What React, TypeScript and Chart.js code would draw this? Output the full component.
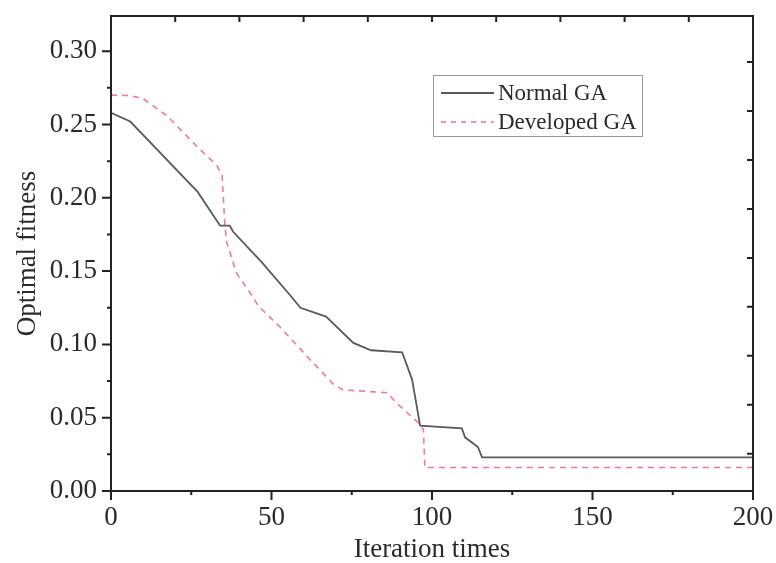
import React, { useEffect, useRef } from "react";
import { Chart, registerables } from "chart.js";

Chart.register(...registerables);

const seriesNames = ["Normal GA", "Developed GA"];

const normalIter = [0, 6, 27, 34, 37, 38, 44, 47, 56, 59, 67, 75.5, 81, 90.7, 93.8, 96.3, 109.3, 110.3, 114.3, 115.6, 200];
const normalFit = [0.258, 0.252, 0.204, 0.181, 0.181, 0.177, 0.163, 0.156, 0.133, 0.125, 0.119, 0.101, 0.096, 0.0946, 0.076, 0.0445, 0.0427, 0.0366, 0.030, 0.0229, 0.0229];

const developedIter = [0, 6, 10, 17.4, 26.8, 33, 34.6, 35.5, 36, 39, 44, 46, 52.6, 61, 69.3, 72.3, 86, 89, 96.3, 97.3, 97.8, 200];
const developedFit = [0.27, 0.2697, 0.2676, 0.256, 0.235, 0.222, 0.215, 0.181, 0.17, 0.149, 0.133, 0.126, 0.112, 0.092, 0.0728, 0.069, 0.067, 0.06, 0.0454, 0.042, 0.016, 0.016];

const xTickValues = [0, 50, 100, 150, 200];
const yTickValues = [0, 0.05, 0.1, 0.15, 0.2, 0.25, 0.3];

const FONT = "'Liberation Serif', 'Times New Roman', serif";
const AXIS_COLOR = "#222";
const TEXT_COLOR = "#2b2b2b";
const NORMAL_COLOR = "#5a5a5a";
const DEV_COLOR = "#f27a93";

const framePlugin = {
  id: "frameTicks",
  afterDatasetsDraw(chart: any) {
    const ctx = chart.ctx;
    const { left, right, top, bottom } = chart.chartArea;
    const xs = chart.scales.x;
    const ys = chart.scales.y;
    ctx.save();
    ctx.strokeStyle = AXIS_COLOR;
    ctx.lineWidth = 2;
    ctx.strokeRect(left, top, right - left, bottom - top);
    ctx.beginPath();
    for (let v = 0; v <= 200; v += 25) {
      const px = xs.getPixelForValue(v);
      const len = v % 50 === 0 ? 9 : 4;
      ctx.moveTo(px, bottom);
      ctx.lineTo(px, bottom + len);
    }
    for (let v = 20; v < 200; v += 20) {
      const px = xs.getPixelForValue(v);
      ctx.moveTo(px, top);
      ctx.lineTo(px, top + 6);
    }
    for (let i = 0; i <= 12; i++) {
      const v = i * 0.025;
      const py = ys.getPixelForValue(v);
      const len = i % 2 === 0 ? 9 : 4;
      ctx.moveTo(left, py);
      ctx.lineTo(left - len, py);
    }
    for (let i = 0; i <= 9; i++) {
      const v = 0.0254 + i * 0.0334;
      if (v > 0.32) break;
      const py = ys.getPixelForValue(v);
      ctx.moveTo(right, py);
      ctx.lineTo(right - 6, py);
    }
    ctx.stroke();

    const bx = 433, by = 75, bw = 209, bh = 61;
    ctx.lineWidth = 1;
    ctx.strokeStyle = "#9a9a9a";
    ctx.strokeRect(bx + 0.5, by + 0.5, bw, bh);
    ctx.font = `23px ${FONT}`;
    ctx.textBaseline = "middle";
    ctx.fillStyle = TEXT_COLOR;
    const rows = [
      { y: 93, color: NORMAL_COLOR, dash: [] as number[], width: 1.8 },
      { y: 122, color: DEV_COLOR, dash: [5, 5], width: 1.6 },
    ];
    rows.forEach((r, i) => {
      ctx.save();
      ctx.strokeStyle = r.color;
      ctx.lineWidth = r.width;
      ctx.setLineDash(r.dash);
      ctx.beginPath();
      ctx.moveTo(441, r.y);
      ctx.lineTo(494, r.y);
      ctx.stroke();
      ctx.restore();
      ctx.fillText(seriesNames[i], 498, r.y + 1);
    });
    ctx.restore();
  },
};

export default function App() {
  const ref = useRef<HTMLCanvasElement | null>(null);
  useEffect(() => {
    document.body.style.margin = "0";
    const canvas = ref.current!;
    const chart = new Chart(canvas, {
      type: "line",
      data: {
        datasets: [
          {
            label: seriesNames[0],
            data: normalIter.map((x, i) => ({ x, y: normalFit[i] })),
            borderColor: NORMAL_COLOR,
            borderWidth: 1.8,
            pointRadius: 0,
            tension: 0,
            fill: false,
          },
          {
            label: seriesNames[1],
            data: developedIter.map((x, i) => ({ x, y: developedFit[i] })),
            borderColor: DEV_COLOR,
            borderWidth: 1.6,
            borderDash: [6, 5],
            pointRadius: 0,
            tension: 0,
            fill: false,
          },
        ],
      },
      options: {
        animation: false,
        responsive: false,
        devicePixelRatio: 1,
        layout: { padding: { left: 0, right: 23, top: 16, bottom: 0 } },
        plugins: { legend: { display: false }, tooltip: { enabled: false } },
        scales: {
          x: {
            type: "linear",
            min: 0,
            max: 200,
            afterFit: (s: any) => {
              s.height = 72;
              s.paddingLeft = 0;
              s.paddingRight = 0;
            },
            afterBuildTicks: (s: any) => { s.ticks = xTickValues.map((v) => ({ value: v })); },
            grid: { display: false, drawTicks: false },
            border: { display: false },
            ticks: {
              padding: 11,
              color: TEXT_COLOR,
              font: { family: FONT, size: 27 },
              callback: (v: any) => String(v),
              maxRotation: 0,
            },
            title: {
              display: true,
              text: "Iteration times",
              color: TEXT_COLOR,
              font: { family: FONT, size: 27, lineHeight: 1 },
              padding: { top: 0, bottom: 0 },
            },
          },
          y: {
            type: "linear",
            min: 0,
            max: 0.324,
            afterFit: (s: any) => {
              s.width = 111;
              s.paddingTop = 0;
              s.paddingBottom = 0;
            },
            afterBuildTicks: (s: any) => { s.ticks = yTickValues.map((v) => ({ value: v })); },
            grid: { display: false, drawTicks: false },
            border: { display: false },
            ticks: {
              padding: 14,
              color: TEXT_COLOR,
              font: { family: FONT, size: 27 },
              callback: (v: any) => Number(v).toFixed(2),
            },
            title: {
              display: true,
              text: "Optimal fitness",
              color: TEXT_COLOR,
              font: { family: FONT, size: 27, lineHeight: 1 },
              padding: { top: 14, bottom: 0 },
            },
          },
        },
      },
      plugins: [framePlugin],
    } as any);
    return () => chart.destroy();
  }, []);
  return (
    <div style={{ position: "fixed", left: 0, top: 0, width: 776, height: 563, background: "#fff" }}>
      <canvas ref={ref} width={776} height={563} />
    </div>
  );
}
